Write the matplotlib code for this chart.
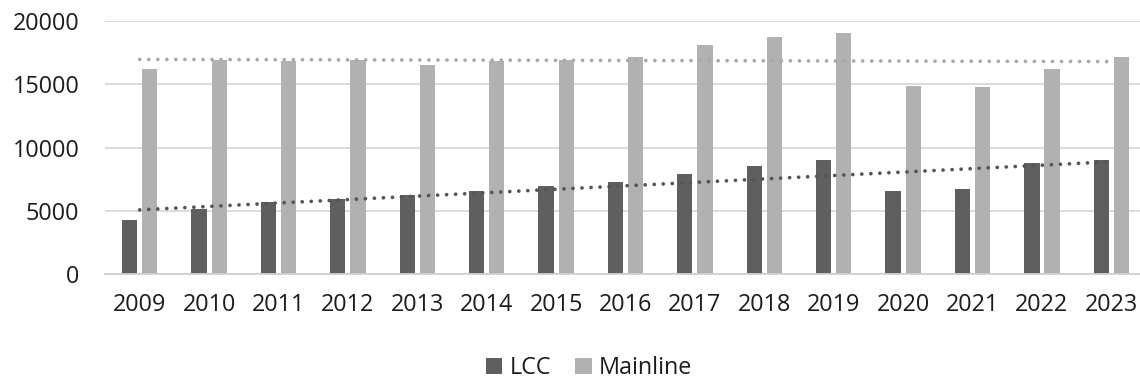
import numpy as np
import matplotlib
matplotlib.use("Agg")
import matplotlib.pyplot as plt

years = ["2009", "2010", "2011", "2012", "2013", "2014", "2015", "2016",
         "2017", "2018", "2019", "2020", "2021", "2022", "2023"]
lcc = [4270, 5140, 5670, 5930, 6220, 6590, 6960, 7270,
       7900, 8540, 9010, 6590, 6690, 8800, 9010]
mainline = [16180, 16920, 16840, 16890, 16500, 16870, 16940, 17180,
            18130, 18710, 19030, 14860, 14780, 16180, 17180]

LCC_COLOR = "#5f5f5f"
MAIN_COLOR = "#b1b1b1"
TEXT_COLOR = "#1c1c1c"

plt.rcParams["font.family"] = ["Open Sans", "DejaVu Sans"]

fig = plt.figure(figsize=(11.4, 3.81), dpi=100)
ax = fig.add_axes([0.0921, 0.2808, 0.9132, 0.6641])

x = np.arange(len(years))
width = 0.22
offset = 0.145
ax.bar(x - offset, lcc, width, color=LCC_COLOR, label="LCC", zorder=2)
ax.bar(x + offset, mainline, width, color=MAIN_COLOR, label="Mainline", zorder=2)

# linear trend lines for each series
dot_style = (0, (0.01, 2.4))
for vals, col in ((lcc, "#555555"), (mainline, "#a9a9a9")):
    k, b = np.polyfit(x, vals, 1)
    ax.plot(x, k * x + b, color=col, linewidth=2.7, linestyle=dot_style,
            dash_capstyle="round", zorder=3)

ax.set_xlim(-0.5, len(years) - 0.5)
ax.set_ylim(0, 20000)
ax.set_yticks([0, 5000, 10000, 15000, 20000])
ax.set_xticks(x)
ax.set_xticklabels(years)

ax.grid(axis="y", color="#d9d9d9", linewidth=1.3, zorder=0)
ax.set_axisbelow(True)
for side in ("top", "right", "left"):
    ax.spines[side].set_visible(False)
ax.spines["bottom"].set_color("#d0d0d0")
ax.spines["bottom"].set_linewidth(1.3)

ax.tick_params(axis="both", length=0, labelsize=16.8, colors=TEXT_COLOR)
ax.tick_params(axis="y", pad=18.5)
ax.tick_params(axis="x", pad=14)

fig.legend(loc="center", bbox_to_anchor=(589 / 1140, 1 - 368 / 381),
           ncol=2, frameon=False, fontsize=16.8, handlelength=0.7,
           handleheight=0.7, handletextpad=0.3, columnspacing=1.05,
           labelcolor=TEXT_COLOR)

fig.savefig("out.png", dpi=100, facecolor="white")
